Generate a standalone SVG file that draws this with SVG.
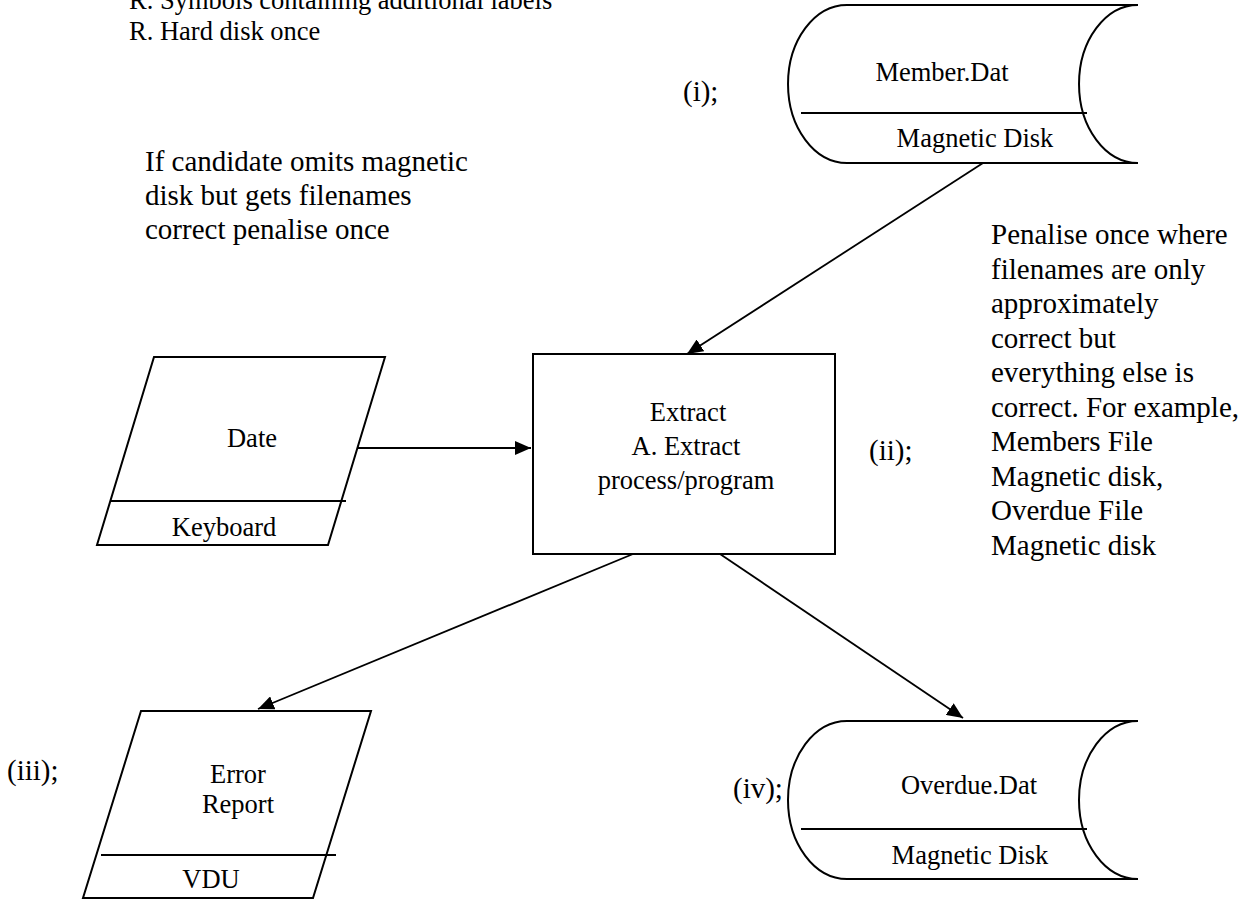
<svg xmlns="http://www.w3.org/2000/svg" width="1249" height="901" viewBox="0 0 1249 901">
<defs>
<marker id="ah" markerUnits="userSpaceOnUse" markerWidth="16" markerHeight="14" refX="16" refY="7" orient="auto"><path d="M0,0 L16,7 L0,14 Z" fill="#000"/></marker>
<style>
text{font-family:"Liberation Serif","Times New Roman",serif;font-size:26.5px;fill:#000}
.n{font-size:29px}
.c{text-anchor:middle}
.s{fill:#fff;stroke:#000;stroke-width:2}
.d{stroke:#000;stroke-width:2;fill:none}
.e{stroke:#000;stroke-width:1.8;fill:none;marker-end:url(#ah)}
</style>
</defs>
<rect width="1249" height="901" fill="#fff"/>
<g id="notes">
<text x="129" y="9">R. Symbols containing additional labels</text>
<text x="129" y="40">R. Hard disk once</text>
<text class="n" x="145" y="171">If candidate omits magnetic</text>
<text class="n" x="145" y="205">disk but gets filenames</text>
<text class="n" x="145" y="239">correct penalise once</text>
<text class="n" x="991" y="244">Penalise once where</text>
<text class="n" x="991" y="278.5">filenames are only</text>
<text class="n" x="991" y="313">approximately</text>
<text class="n" x="991" y="347.5">correct but</text>
<text class="n" x="991" y="382">everything else is</text>
<text class="n" x="991" y="416.5">correct. For example,</text>
<text class="n" x="991" y="451">Members File</text>
<text class="n" x="991" y="485.5">Magnetic disk,</text>
<text class="n" x="991" y="520">Overdue File</text>
<text class="n" x="991" y="554.5">Magnetic disk</text>
<text class="n" x="683" y="101">(i);</text>
<text class="n" x="869" y="460">(ii);</text>
<text class="n" x="7" y="780">(iii);</text>
<text class="n" x="733" y="798">(iv);</text>
</g>
<g id="connectors">
<line class="e" x1="358" y1="448" x2="531" y2="448"/>
<line class="e" x1="983" y1="163" x2="687" y2="354"/>
<line class="e" x1="633" y1="554" x2="258" y2="709"/>
<line class="e" x1="720" y1="554" x2="963" y2="718"/>
</g>
<g id="member">
<path class="s" d="M847,5 H1138 A59 79 0 0 0 1138,163 H847 A59 79 0 0 1 847,5 Z"/>
<line class="d" x1="801" y1="113" x2="1087" y2="113"/>
<text class="c" x="942" y="81">Member.Dat</text>
<text class="c" x="975" y="147">Magnetic Disk</text>
</g>
<g id="date">
<polygon class="s" points="154,357 385,357 328,545 97,545"/>
<line class="d" x1="110" y1="501" x2="346" y2="501"/>
<text class="c" x="252" y="447">Date</text>
<text class="c" x="224" y="536">Keyboard</text>
</g>
<g id="extract">
<rect class="s" x="533" y="354" width="302" height="200"/>
<text class="c" x="688" y="421">Extract</text>
<text class="c" x="686" y="455">A. Extract</text>
<text class="c" x="686" y="489">process/program</text>
</g>
<g id="error">
<polygon class="s" points="141,711 371,711 313,898 83,898"/>
<line class="d" x1="101" y1="855" x2="336" y2="855"/>
<text class="c" x="238" y="783">Error</text>
<text class="c" x="238" y="813">Report</text>
<text class="c" x="211" y="888">VDU</text>
</g>
<g id="overdue">
<path class="s" d="M847,721 H1138 A59 79 0 0 0 1138,879 H847 A59 79 0 0 1 847,721 Z"/>
<line class="d" x1="801" y1="829" x2="1087" y2="829"/>
<text class="c" x="969" y="794">Overdue.Dat</text>
<text class="c" x="970" y="864">Magnetic Disk</text>
</g>
</svg>
